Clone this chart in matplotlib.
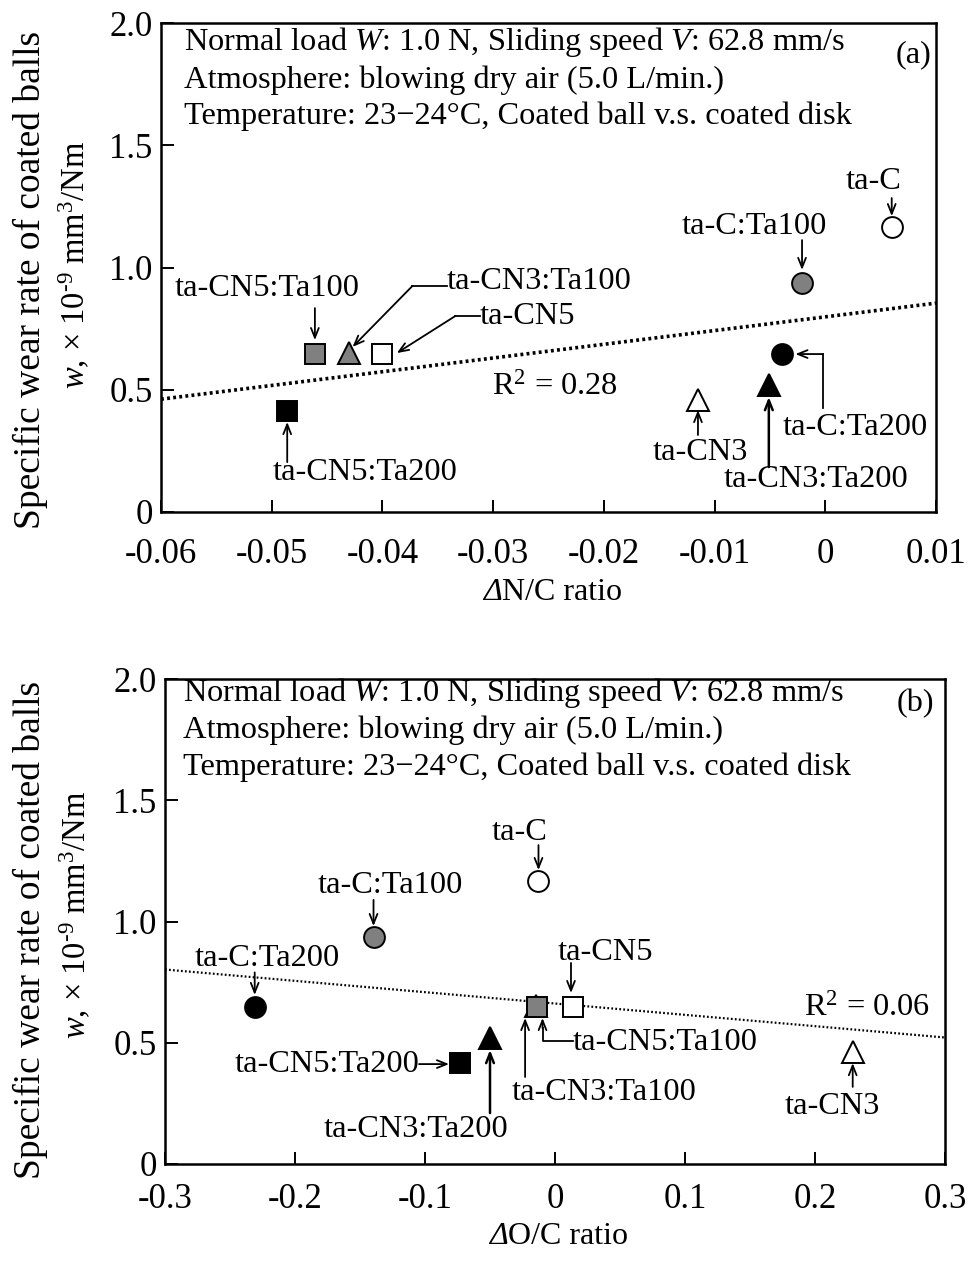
import numpy as np
import matplotlib
matplotlib.use('Agg')
import matplotlib.pyplot as plt

plt.rcParams['font.family'] = ['Liberation Serif', 'DejaVu Serif']
plt.rcParams['mathtext.fontset'] = 'custom'
plt.rcParams['mathtext.rm'] = 'Liberation Serif'
plt.rcParams['mathtext.it'] = 'Liberation Serif:italic'
plt.rcParams['mathtext.bf'] = 'Liberation Serif:bold'

# ---------------- data ----------------
samples = ['ta-C', 'ta-C:Ta100', 'ta-C:Ta200',
           'ta-CN3', 'ta-CN3:Ta100', 'ta-CN3:Ta200',
           'ta-CN5', 'ta-CN5:Ta100', 'ta-CN5:Ta200']
wear_rate = [1.167, 0.937, 0.648, 0.46, 0.65, 0.52, 0.648, 0.648, 0.415]
delta_nc = [0.006, -0.0021, -0.0039, -0.0115, -0.043, -0.0051, -0.040, -0.0461, -0.0486]
delta_oc = [-0.0127, -0.1396, -0.231, 0.229, -0.015, -0.050, 0.0138, -0.0138, -0.073]
marker_shapes = ['o', 'o', 'o', '^', '^', '^', 's', 's', 's']
marker_fills = ['white', '#808080', 'black'] * 3

r2_a = 'R$^{2}$ = 0.28'
r2_b = 'R$^{2}$ = 0.06'

xticks_a = [-0.06, -0.05, -0.04, -0.03, -0.02, -0.01, 0, 0.01]
xticklabels_a = ['-0.06', '-0.05', '-0.04', '-0.03', '-0.02', '-0.01', '0', '0.01']
xticks_b = [-0.3, -0.2, -0.1, 0, 0.1, 0.2, 0.3]
xticklabels_b = ['-0.3', '-0.2', '-0.1', '0', '0.1', '0.2', '0.3']
yticks = [0, 0.5, 1.0, 1.5, 2.0]
yticklabels = ['0', '0.5', '1.0', '1.5', '2.0']

header = ['Normal load $W$: 1.0 N, Sliding speed $V$: 62.8 mm/s',
          'Atmosphere: blowing dry air (5.0 L/min.)',
          'Temperature: 23\u221224\u00b0C, Coated ball v.s. coated disk']
ylabel_1 = 'Specific wear rate of coated balls'
ylabel_2 = '$w$, \u00d7 10$^{\\text{-}9}$ mm$^{3}$/Nm'
xlabel_a = 'N/C ratio'
xlabel_b = 'O/C ratio'

FS_TICK = 25
FS_TEXT = 23.3
FS_LABEL = 23

fig = plt.figure(figsize=(9.69, 12.62), dpi=100)
ax_a = fig.add_axes([161/969, 1-512/1262, 775/969, 489/1262])
ax_b = fig.add_axes([165/969, 1-1164/1262, 780/969, 485/1262])

ARW = dict(arrowstyle='->,head_length=0.7,head_width=0.28', lw=1.3, color='black',
           shrinkA=0, shrinkB=0)


def arrow(ax, tail, tip, lw=1.3):
    p = dict(ARW)
    p['lw'] = lw
    ax.annotate('', xy=tip, xytext=tail, arrowprops=p, zorder=4)


def style_axes(ax, xlim, xticks, xticklabels, xlabel, xpad, xlab_pos, ylab_pos):
    ax.set_xlim(*xlim)
    ax.set_ylim(0, 2.0)
    ax.set_xticks(xticks)
    ax.set_xticklabels(xticklabels)
    ax.set_yticks(yticks)
    ax.set_yticklabels(yticklabels)
    ax.tick_params(direction='in', length=9, width=1.4, labelsize=FS_TICK,
                   top=False, right=False)
    ax.tick_params(axis='x', pad=xpad)
    ax.tick_params(axis='y', pad=6)
    for s in ax.spines.values():
        s.set_linewidth(1.8)
    x0, y0 = xlab_pos
    ax.text(x0, y0, '\u0394', transform=ax.transAxes, fontsize=FS_LABEL,
            fontstyle='italic', ha='right', va='center', clip_on=False)
    ax.text(x0, y0, xlabel, transform=ax.transAxes, fontsize=FS_LABEL,
            ha='left', va='center', clip_on=False)
    (x1, y1), (x2, y2) = ylab_pos
    ax.text(x1, y1, ylabel_1, transform=ax.transAxes, rotation=90, fontsize=27,
            ha='center', va='center', clip_on=False)
    ax.text(x2, y2, ylabel_2, transform=ax.transAxes, rotation=90, fontsize=23.5,
            ha='center', va='center', clip_on=False)


def draw_points(ax, xs):
    for x, y, m, c in zip(xs, wear_rate, marker_shapes, marker_fills):
        ax.plot([x], [y], marker=m, markersize=15 if m != '^' else 16,
                markerfacecolor=c, markeredgecolor='black', markeredgewidth=1.4,
                linestyle='none', zorder=5)


def fit_line(ax, xs, xlim, lw, ls):
    k, b = np.polyfit(xs, wear_rate, 1)
    xx = np.array(xlim)
    ax.plot(xx, k * xx + b, color='black', lw=lw, linestyle=ls, zorder=2)


def put_header(ax, x, ys, tag, tagxy):
    for t, y in zip(header, ys):
        ax.text(x, y, t, fontsize=FS_TEXT, ha='left', va='center')
    ax.text(tagxy[0], tagxy[1], tag, fontsize=FS_TEXT, ha='center', va='center')


def label(ax, x, y, s, ha='center'):
    ax.text(x, y, s, fontsize=FS_TEXT, ha=ha, va='center')


# ---------------- panel (a) ----------------
xlim_a = (-0.06, 0.01)
style_axes(ax_a, xlim_a, xticks_a, xticklabels_a, xlabel_a, 19,
           (0.44, -0.1656), ((-0.169, 0.474), (-0.111, 0.505)))
fit_line(ax_a, delta_nc, xlim_a, 2.6, (0, (0.8, 0.9)))
draw_points(ax_a, delta_nc)
put_header(ax_a, -0.0579, [1.924, 1.767, 1.617], '(a)', (0.008, 1.869))
label(ax_a, -0.0244, 0.511, r2_a)

label(ax_a, 0.0044, 1.35, 'ta-C')
arrow(ax_a, (0.006, 1.284), (0.006, 1.21))
label(ax_a, -0.0064, 1.166, 'ta-C:Ta100')
arrow(ax_a, (-0.0021, 1.112), (-0.0021, 0.99))
label(ax_a, -0.0504, 0.916, 'ta-CN5:Ta100')
arrow(ax_a, (-0.0461, 0.834), (-0.0461, 0.703))
label(ax_a, -0.0342, 0.941, 'ta-CN3:Ta100', ha='left')
ax_a.plot([-0.0342, -0.0373], [0.924, 0.924], color='black', lw=1.3)
arrow(ax_a, (-0.0373, 0.924), (-0.0427, 0.675))
label(ax_a, -0.0312, 0.800, 'ta-CN5', ha='left')
ax_a.plot([-0.0312, -0.0334], [0.802, 0.802], color='black', lw=1.3)
arrow(ax_a, (-0.0334, 0.802), (-0.0387, 0.650))
label(ax_a, -0.0416, 0.16, 'ta-CN5:Ta200')
arrow(ax_a, (-0.0486, 0.204), (-0.0486, 0.368))
label(ax_a, -0.0113, 0.245, 'ta-CN3')
arrow(ax_a, (-0.0115, 0.315), (-0.0115, 0.417))
label(ax_a, -0.0008, 0.131, 'ta-CN3:Ta200')
arrow(ax_a, (-0.0051, 0.184), (-0.0051, 0.47), lw=1.8)
label(ax_a, 0.0027, 0.344, 'ta-C:Ta200')
ax_a.plot([-0.0002, -0.0002], [0.425, 0.646], color='black', lw=1.3)
arrow(ax_a, (-0.0002, 0.646), (-0.0027, 0.646))

# ---------------- panel (b) ----------------
xlim_b = (-0.3, 0.3)
style_axes(ax_b, xlim_b, xticks_b, xticklabels_b, xlabel_b, 14,
           (0.44, -0.1505), ((-0.173, 0.482), (-0.115, 0.513)))
fit_line(ax_b, delta_oc, xlim_b, 1.6, (0, (0.8, 1.0)))
draw_points(ax_b, delta_oc)
put_header(ax_b, -0.2865, [1.942, 1.79, 1.637], '(b)', (0.277, 1.90))
label(ax_b, 0.240, 0.643, r2_b)

label(ax_b, -0.027, 1.365, 'ta-C')
arrow(ax_b, (-0.0127, 1.315), (-0.0127, 1.212))
label(ax_b, -0.127, 1.15, 'ta-C:Ta100')
arrow(ax_b, (-0.1396, 1.089), (-0.1396, 0.981))
label(ax_b, -0.2215, 0.849, 'ta-C:Ta200')
arrow(ax_b, (-0.231, 0.79), (-0.231, 0.697))
label(ax_b, 0.0385, 0.874, 'ta-CN5')
arrow(ax_b, (0.0123, 0.829), (0.0123, 0.705))
label(ax_b, 0.0135, 0.499, 'ta-CN5:Ta100', ha='left')
ax_b.plot([0.0135, -0.0096, -0.0096], [0.508, 0.508, 0.56], color='black', lw=1.3)
arrow(ax_b, (-0.0096, 0.56), (-0.0096, 0.602))
label(ax_b, 0.0377, 0.293, 'ta-CN3:Ta100')
arrow(ax_b, (-0.023, 0.359), (-0.023, 0.602))
label(ax_b, -0.107, 0.144, 'ta-CN3:Ta200')
arrow(ax_b, (-0.05, 0.21), (-0.05, 0.47), lw=1.8)
label(ax_b, -0.1046, 0.412, 'ta-CN5:Ta200', ha='right')
arrow(ax_b, (-0.1046, 0.412), (-0.0815, 0.412))
label(ax_b, 0.2135, 0.239, 'ta-CN3')
arrow(ax_b, (0.229, 0.318), (0.229, 0.416))

fig.savefig('out.png', dpi=100)
